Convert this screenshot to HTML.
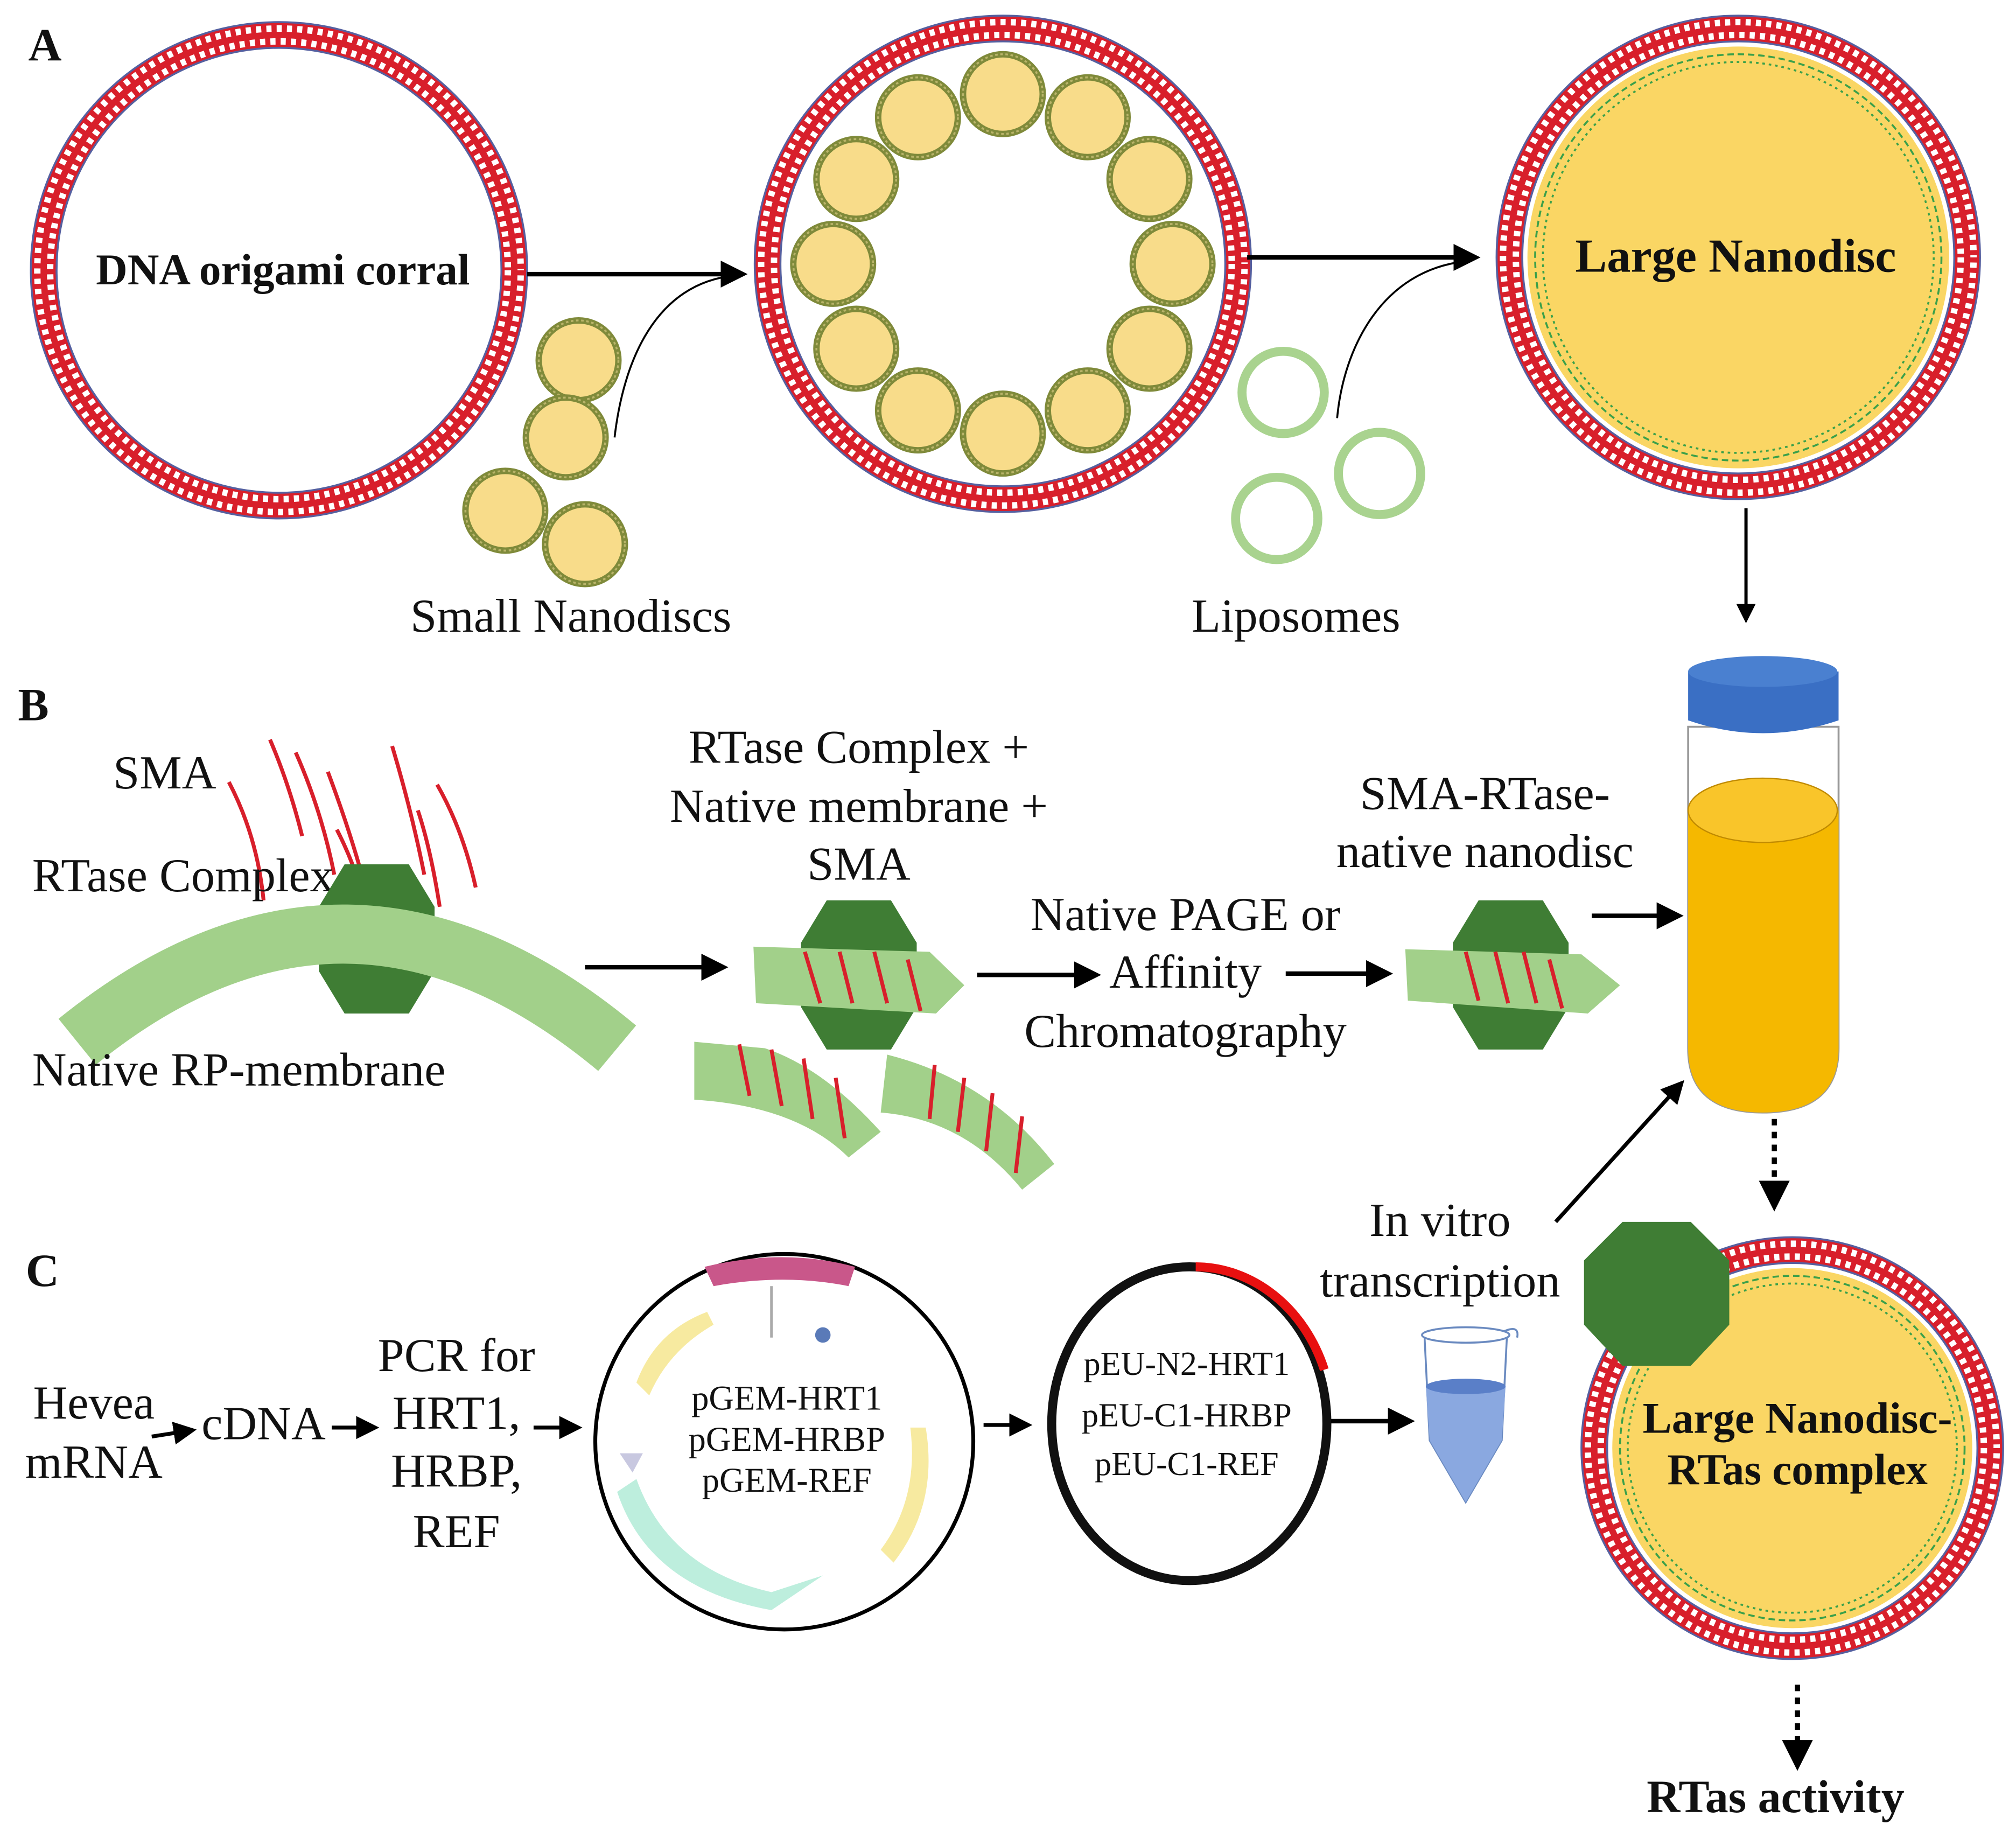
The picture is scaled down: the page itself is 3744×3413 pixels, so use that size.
<!DOCTYPE html>
<html><head><meta charset="utf-8"><style>
html,body{margin:0;padding:0;background:#fff}
svg{display:block}
text{font-family:"Liberation Serif",serif;fill:#111}
</style></head><body>
<svg width="3744" height="3413" viewBox="0 0 1568 1429" xmlns="http://www.w3.org/2000/svg">
<defs>
<g id="sd">
  <circle r="31" fill="#f8dc8a" stroke="#7f8a3a" stroke-width="5"/>
  <circle r="31" fill="none" stroke="#b9b46a" stroke-width="1.5" stroke-dasharray="2 2"/>
</g>
<marker id="ah" markerWidth="6" markerHeight="6" refX="5" refY="3" orient="auto" markerUnits="strokeWidth">
  <path d="M0,0 L6,3 L0,6 z" fill="#000"/>
</marker>
<polygon id="oct" points="-25,-58 25,-58 45,-25 45,25 25,58 -25,58 -45,25 -45,-25" fill="#3f7d34"/>
</defs>

<g transform="translate(217,210)">
  <circle r="183" fill="none" stroke="#d81f2b" stroke-width="20"/>
  <circle r="178" fill="none" stroke="#fff" stroke-width="5" stroke-dasharray="4 4"/>
  <circle r="188" fill="none" stroke="#fff" stroke-width="5" stroke-dasharray="4 4" stroke-dashoffset="4"/>
  <circle r="193" fill="none" stroke="#5560a0" stroke-width="1.5"/>
  <circle r="173" fill="none" stroke="#5560a0" stroke-width="1.5"/>
</g>
<text x="220" y="221" font-size="34" font-weight="bold" text-anchor="middle">DNA origami corral</text>

<g transform="translate(780,205)">
  <circle r="183" fill="none" stroke="#d81f2b" stroke-width="20"/>
  <circle r="178" fill="none" stroke="#fff" stroke-width="5" stroke-dasharray="4 4"/>
  <circle r="188" fill="none" stroke="#fff" stroke-width="5" stroke-dasharray="4 4" stroke-dashoffset="4"/>
  <circle r="193" fill="none" stroke="#5560a0" stroke-width="1.5"/>
  <circle r="173" fill="none" stroke="#5560a0" stroke-width="1.5"/>
  <use href="#sd" x="0" y="-132"/>
  <use href="#sd" x="-66" y="-114"/>
  <use href="#sd" x="-114" y="-66"/>
  <use href="#sd" x="-132" y="0"/>
  <use href="#sd" x="-114" y="66"/>
  <use href="#sd" x="-66" y="114"/>
  <use href="#sd" x="0" y="132"/>
  <use href="#sd" x="66" y="114"/>
  <use href="#sd" x="114" y="66"/>
  <use href="#sd" x="132" y="0"/>
  <use href="#sd" x="114" y="-66"/>
  <use href="#sd" x="66" y="-114"/>
</g>

<g transform="translate(1352,200)">
  <circle r="178" fill="none" stroke="#d81f2b" stroke-width="20"/>
  <circle r="173" fill="none" stroke="#fff" stroke-width="5" stroke-dasharray="4 4"/>
  <circle r="183" fill="none" stroke="#fff" stroke-width="5" stroke-dasharray="4 4" stroke-dashoffset="4"/>
  <circle r="188" fill="none" stroke="#5560a0" stroke-width="1.5"/>
  <circle r="168" fill="none" stroke="#5560a0" stroke-width="1.5"/>
  <circle r="164" fill="#fad664"/>
  <circle r="158" fill="none" stroke="#3aa04a" stroke-width="1.5" stroke-dasharray="5 3"/>
  <circle r="152" fill="none" stroke="#3aa04a" stroke-width="1.5" stroke-dasharray="2 3"/>
</g>
<text x="1350" y="211" font-size="37" font-weight="bold" text-anchor="middle">Large Nanodisc</text>

<text x="22" y="47" font-size="36" font-weight="bold">A</text>

<line x1="410" y1="213" x2="578" y2="213" stroke="#000" stroke-width="3.5" marker-end="url(#ah)"/>
<line x1="970" y1="200" x2="1148" y2="200" stroke="#000" stroke-width="3.5" marker-end="url(#ah)"/>
<path d="M478,340 C485,280 510,220 572,214" fill="none" stroke="#000" stroke-width="1.5"/>
<path d="M1040,325 C1045,270 1075,210 1140,203" fill="none" stroke="#000" stroke-width="1.5"/>

<use href="#sd" x="450" y="280"/>
<use href="#sd" x="440" y="340"/>
<use href="#sd" x="393" y="397"/>
<use href="#sd" x="455" y="423"/>
<text x="444" y="491" font-size="37" text-anchor="middle">Small Nanodiscs</text>

<circle cx="998" cy="305" r="32" fill="none" stroke="#a9d38f" stroke-width="7"/>
<circle cx="1073" cy="368" r="32" fill="none" stroke="#a9d38f" stroke-width="7"/>
<circle cx="993" cy="403" r="32" fill="none" stroke="#a9d38f" stroke-width="7"/>
<text x="1008" y="491" font-size="37" text-anchor="middle">Liposomes</text>

<line x1="1358" y1="395" x2="1358" y2="482" stroke="#000" stroke-width="2.5" marker-end="url(#ah)"/>

<!-- Tube -->
<path d="M1313,565 L1313,815 Q1313,865 1371,865 Q1430,865 1430,815 L1430,565 Z" fill="#fff" stroke="#999" stroke-width="1.5"/>
<path d="M1313,630 L1313,815 Q1313,865 1371,865 Q1430,865 1430,815 L1430,630 Z" fill="#f5b800"/>
<ellipse cx="1371" cy="630" rx="58" ry="25" fill="#f9c52a" stroke="#c08a00" stroke-width="1"/>
<path d="M1313,522 L1313,560 Q1371,580 1430,560 L1430,522 Z" fill="#3a6fc4"/>
<ellipse cx="1371" cy="522" rx="58" ry="12" fill="#4a80d0"/>

<!-- B -->
<text x="14" y="560" font-size="36" font-weight="bold">B</text>
<text x="88" y="613" font-size="37">SMA</text>
<g fill="none" stroke="#d81f2b" stroke-width="3">
  <path d="M178,608 Q200,650 205,700"/>
  <path d="M210,575 Q225,610 235,650"/>
  <path d="M230,585 Q250,630 260,680"/>
  <path d="M255,600 Q270,640 280,675"/>
  <path d="M262,645 Q280,680 288,720"/>
  <path d="M305,580 Q320,630 330,680"/>
  <path d="M325,630 Q335,660 342,705"/>
  <path d="M340,610 Q360,645 370,690"/>
</g>
<text x="25" y="693" font-size="37">RTase Complex</text>
<use href="#oct" x="293" y="730"/>
<path d="M60,810 Q270,640 480,815" fill="none" stroke="#a2d08a" stroke-width="46"/>
<text x="25" y="844" font-size="37">Native RP-membrane</text>
<line x1="455" y1="752" x2="563" y2="752" stroke="#000" stroke-width="3.5" marker-end="url(#ah)"/>

<text x="668" y="593" font-size="37" text-anchor="middle">RTase Complex +</text>
<text x="668" y="639" font-size="37" text-anchor="middle">Native membrane +</text>
<text x="668" y="684" font-size="37" text-anchor="middle">SMA</text>

<g transform="translate(668,758)">
  <use href="#oct"/>
  <path d="M-82,-22 L55,-18 L82,8 L60,30 L-80,22 Z" fill="#a2d08a"/>
  <g stroke="#d81f2b" stroke-width="3"><line x1="-42" y1="-18" x2="-30" y2="22"/><line x1="-15" y1="-18" x2="-5" y2="22"/><line x1="12" y1="-18" x2="22" y2="22"/><line x1="38" y1="-12" x2="48" y2="28"/></g>
</g>
<path d="M540,810 L595,815 Q640,830 685,880 L660,900 Q620,860 540,855 Z" fill="#a2d08a"/>
<g stroke="#d81f2b" stroke-width="3"><line x1="575" y1="812" x2="583" y2="852"/><line x1="600" y1="816" x2="608" y2="860"/><line x1="625" y1="823" x2="632" y2="870"/><line x1="650" y1="838" x2="657" y2="885"/></g>
<path d="M690,820 Q770,840 820,905 L795,925 Q750,870 685,865 Z" fill="#a2d08a"/>
<g stroke="#d81f2b" stroke-width="3"><line x1="727" y1="828" x2="723" y2="870"/><line x1="750" y1="838" x2="745" y2="880"/><line x1="772" y1="850" x2="767" y2="895"/><line x1="795" y1="868" x2="790" y2="912"/></g>

<line x1="760" y1="758" x2="853" y2="758" stroke="#000" stroke-width="3.5" marker-end="url(#ah)"/>
<text x="922" y="723" font-size="37" text-anchor="middle">Native PAGE or</text>
<text x="922" y="768" font-size="37" text-anchor="middle">Affinity</text>
<text x="922" y="814" font-size="37" text-anchor="middle">Chromatography</text>
<line x1="1000" y1="757" x2="1080" y2="757" stroke="#000" stroke-width="3.5" marker-end="url(#ah)"/>
<text x="1155" y="629" font-size="37" text-anchor="middle">SMA-RTase-</text>
<text x="1155" y="674" font-size="37" text-anchor="middle">native nanodisc</text>
<g transform="translate(1175,758)">
  <use href="#oct"/>
  <path d="M-82,-20 L55,-16 L85,8 L60,30 L-80,20 Z" fill="#a2d08a"/>
  <g stroke="#d81f2b" stroke-width="3"><line x1="-35" y1="-18" x2="-25" y2="20"/><line x1="-12" y1="-18" x2="-2" y2="22"/><line x1="10" y1="-18" x2="20" y2="22"/><line x1="30" y1="-12" x2="40" y2="26"/></g>
</g>
<line x1="1238" y1="712" x2="1306" y2="712" stroke="#000" stroke-width="3.5" marker-end="url(#ah)"/>

<line x1="1380" y1="870" x2="1380" y2="938" stroke="#000" stroke-width="4" stroke-dasharray="5 5" marker-end="url(#ah)"/>
<line x1="1210" y1="950" x2="1308" y2="842" stroke="#000" stroke-width="3" marker-end="url(#ah)"/>
<text x="1120" y="961" font-size="37" text-anchor="middle">In vitro</text>
<text x="1120" y="1008" font-size="37" text-anchor="middle">transcription</text>

<!-- C -->
<text x="20" y="1000" font-size="36" font-weight="bold">C</text>
<text x="73" y="1103" font-size="37" text-anchor="middle">Hevea</text>
<text x="73" y="1149" font-size="37" text-anchor="middle">mRNA</text>
<line x1="118" y1="1117" x2="150" y2="1112" stroke="#000" stroke-width="3" marker-end="url(#ah)"/>
<text x="205" y="1119" font-size="37" text-anchor="middle">cDNA</text>
<line x1="258" y1="1110" x2="292" y2="1110" stroke="#000" stroke-width="3" marker-end="url(#ah)"/>
<text x="355" y="1066" font-size="37" text-anchor="middle">PCR for</text>
<text x="355" y="1111" font-size="37" text-anchor="middle">HRT1,</text>
<text x="355" y="1156" font-size="37" text-anchor="middle">HRBP,</text>
<text x="355" y="1203" font-size="37" text-anchor="middle">REF</text>
<line x1="415" y1="1110" x2="450" y2="1110" stroke="#000" stroke-width="3" marker-end="url(#ah)"/>

<ellipse cx="610" cy="1121" rx="147" ry="146" fill="#fff" stroke="#000" stroke-width="3"/>
<path d="M548,985 Q610,970 665,985 L660,1000 Q610,990 555,1000 Z" fill="#c9578a"/>
<line x1="600" y1="1000" x2="600" y2="1040" stroke="#aaa" stroke-width="2"/>
<circle cx="640" cy="1038" r="6" fill="#5a7ab8"/>
<path d="M495,1075 Q510,1035 550,1020 L555,1030 Q520,1050 505,1085 Z" fill="#f7eaa0"/>
<path d="M720,1110 Q730,1170 695,1215 L685,1205 Q715,1165 708,1110 Z" fill="#f7eaa0"/>
<path d="M495,1150 Q520,1220 600,1238 L640,1225 L600,1252 Q505,1235 480,1160 Z" fill="#bdeedd"/>
<path d="M482,1130 L500,1130 L492,1145 Z" fill="#c8c8e0"/>
<text x="612" y="1096" font-size="27" text-anchor="middle">pGEM-HRT1</text>
<text x="612" y="1128" font-size="27" text-anchor="middle">pGEM-HRBP</text>
<text x="612" y="1160" font-size="27" text-anchor="middle">pGEM-REF</text>

<line x1="765" y1="1108" x2="800" y2="1108" stroke="#000" stroke-width="3" marker-end="url(#ah)"/>
<ellipse cx="925" cy="1107" rx="107" ry="122" fill="#fff" stroke="#111" stroke-width="7"/>
<path d="M930,985 A107,122 0 0 1 1030,1065" fill="none" stroke="#e81010" stroke-width="7"/>
<text x="923" y="1069" font-size="26" text-anchor="middle">pEU-N2-HRT1</text>
<text x="923" y="1109" font-size="26" text-anchor="middle">pEU-C1-HRBP</text>
<text x="923" y="1147" font-size="26" text-anchor="middle">pEU-C1-REF</text>
<line x1="1035" y1="1105" x2="1097" y2="1105" stroke="#000" stroke-width="3.5" marker-end="url(#ah)"/>

<g transform="translate(1140,1030)">
  <path d="M-32,10 L32,10 L28,90 L0,138 L-28,90 Z" fill="#fff" stroke="#6a8ac0" stroke-width="1.5"/>
  <path d="M-31,48 L31,48 L28,90 L0,138 L-28,90 Z" fill="#8aa8e0"/>
  <ellipse cx="0" cy="48" rx="31" ry="6" fill="#5a7fc8"/>
  <ellipse cx="0" cy="8" rx="34" ry="6" fill="#fff" stroke="#6a8ac0" stroke-width="1.5"/>
  <path d="M30,5 Q42,0 40,10" fill="none" stroke="#6a8ac0" stroke-width="1.5"/>
</g>

<g transform="translate(1394,1126)">
  <circle r="154" fill="none" stroke="#d81f2b" stroke-width="20"/>
  <circle r="149" fill="none" stroke="#fff" stroke-width="5" stroke-dasharray="4 4"/>
  <circle r="159" fill="none" stroke="#fff" stroke-width="5" stroke-dasharray="4 4" stroke-dashoffset="4"/>
  <circle r="164" fill="none" stroke="#5560a0" stroke-width="1.5"/>
  <circle r="144" fill="none" stroke="#5560a0" stroke-width="1.5"/>
  <circle r="140" fill="#fad664"/>
  <circle r="134" fill="none" stroke="#3aa04a" stroke-width="1.5" stroke-dasharray="5 3"/>
  <circle r="128" fill="none" stroke="#3aa04a" stroke-width="1.5" stroke-dasharray="2 3"/>
</g>
<polygon points="1262,950 1315,950 1345,980 1345,1030 1315,1062 1262,1062 1232,1030 1232,980" fill="#3f7d34"/>
<text x="1398" y="1114" font-size="34" font-weight="bold" text-anchor="middle">Large Nanodisc-</text>
<text x="1398" y="1154" font-size="34" font-weight="bold" text-anchor="middle">RTas complex</text>
<line x1="1398" y1="1310" x2="1398" y2="1373" stroke="#000" stroke-width="4" stroke-dasharray="5 5" marker-end="url(#ah)"/>
<text x="1381" y="1409" font-size="36" font-weight="bold" text-anchor="middle">RTas activity</text>
</svg>
</body></html>
